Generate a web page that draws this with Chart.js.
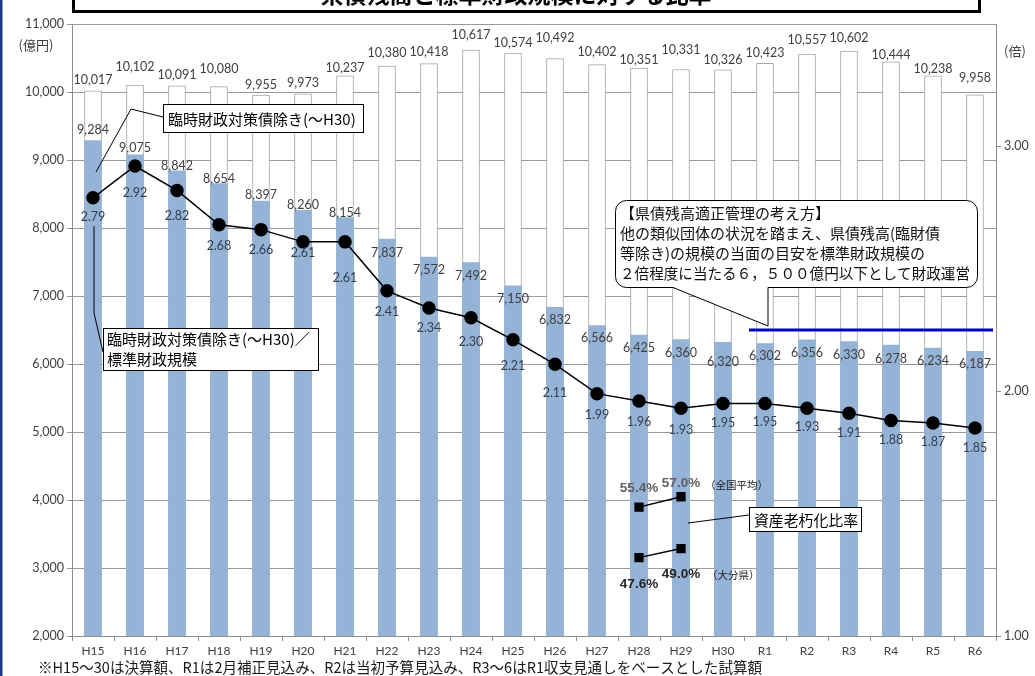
<!DOCTYPE html>
<html><head><meta charset="utf-8">
<script src="https://cdn.jsdelivr.net/npm/chart.js@4/dist/chart.umd.min.js"></script>
<style>html,body{margin:0;padding:0;background:#fff;overflow:hidden}#wrap{position:relative;width:1035px;height:676px}canvas{display:block}</style>
</head><body><div id="wrap"><canvas id="c" width="1035" height="676"></canvas></div>
<script>
const categories = ['H15','H16','H17','H18','H19','H20','H21','H22','H23','H24','H25','H26','H27','H28','H29','H30','R1','R2','R3','R4','R5','R6'];
const totalDebt = [10017,10102,10091,10080,9955,9973,10237,10380,10418,10617,10574,10492,10402,10351,10331,10326,10423,10557,10602,10444,10238,9958];
const debtExclTemp = [9284,9075,8842,8654,8397,8260,8154,7837,7572,7492,7150,6832,6566,6425,6360,6320,6302,6356,6330,6278,6234,6187];
const ratioToStd = [2.79,2.92,2.82,2.68,2.66,2.61,2.61,2.41,2.34,2.30,2.21,2.11,1.99,1.96,1.93,1.95,1.95,1.93,1.91,1.88,1.87,1.85];
const agingNational = [null,null,null,null,null,null,null,null,null,null,null,null,null,55.4,57.0,null,null,null,null,null,null,null];
const agingOita = [null,null,null,null,null,null,null,null,null,null,null,null,null,47.6,49.0,null,null,null,null,null,null,null];
const targetDebt = 6500;
const targetStartIndex = 15.5;

const titleText = '県債残高と標準財政規模に対する比率';
const noteText = '※H15～30は決算額、R1は2月補正見込み、R2は当初予算見込み、R3～6はR1収支見通しをベースとした試算額';
const calloutExcl = '臨時財政対策債除き(～H30)';
const calloutRatio = ['臨時財政対策債除き(～H30)／','標準財政規模'];
const calloutPolicy = ['【県債残高適正管理の考え方】','他の類似団体の状況を踏まえ、県債残高(臨財債','等除き)の規模の当面の目安を標準財政規模の','２倍程度に当たる６，５００億円以下として財政運営'];
const calloutAging = '資産老朽化比率';

// label placement nudges (pixels), as arranged in the original
const totalLabelLift = [11,18,11,18,10,11,8,13,12,15,10,21,13,8,20,10,10,14,13,7,7,17];
const exclLabelDrop = [-11,-7,-5,-5,-6,-5,-5,14,13,13,13,13,12,13,13,20,13,13,13,14,13,13];
const ratioLabelDrop = [19,27,26,21,20,11,36,21,20,24,26,29,21,21,22,20,19,19,20,19,19,20];

const NUM = 'Lato, "Noto Sans", sans-serif';
const JP = '"Noto Sans CJK JP", sans-serif';
const fmt = v => v.toLocaleString('en-US');

function seg(ctx, pts){ctx.beginPath();ctx.moveTo(pts[0][0],pts[0][1]);for(let i=1;i<pts.length;i++)ctx.lineTo(pts[i][0],pts[i][1]);ctx.stroke();}

const annot = {
  id:'annot',
  afterDatasetsDraw(chart){
    const {ctx, scales, chartArea} = chart;
    const x = scales.x, y = scales.y;
    ctx.save();
    // target line
    const ty = y.getPixelForValue(targetDebt);
    const step = x.getPixelForValue(1) - x.getPixelForValue(0);
    const tx0 = x.getPixelForValue(15) + (targetStartIndex-15)*step + 5;
    ctx.strokeStyle = '#0000c8'; ctx.lineWidth = 3;
    seg(ctx, [[tx0,ty],[chartArea.right-3,ty]]);

    // bar labels
    ctx.textAlign='center'; ctx.textBaseline='middle';
    ctx.font = '12.5px '+NUM; ctx.fillStyle='#404040';
    const mTot = chart.getDatasetMeta(4), mEx = chart.getDatasetMeta(3), mR = chart.getDatasetMeta(0);
    mTot.data.forEach((el,i)=>{ctx.fillText(fmt(totalDebt[i]), el.x, el.y-totalLabelLift[i]);});
    mEx.data.forEach((el,i)=>{ctx.fillText(fmt(debtExclTemp[i]), el.x, el.y+exclLabelDrop[i]);});
    ctx.fillStyle='#333f50';
    mR.data.forEach((el,i)=>{ctx.fillText(ratioToStd[i].toFixed(2), el.x, el.y+ratioLabelDrop[i]);});

    // aging labels
    ctx.font='bold 13.5px "Liberation Sans", sans-serif';
    const mN = chart.getDatasetMeta(1), mO = chart.getDatasetMeta(2);
    mN.data.forEach((el,i)=>{ if(agingNational[i]==null) return; ctx.fillStyle='#5f5f5f'; ctx.fillText(agingNational[i].toFixed(1)+'%', el.x, el.y-(i===13?19:13));});
    mO.data.forEach((el,i)=>{ if(agingOita[i]==null) return; ctx.fillStyle='#262626'; ctx.fillText(agingOita[i].toFixed(1)+'%', el.x, el.y+(i===13?27:26));});
    ctx.font='10.5px '+JP; ctx.fillStyle='#222'; ctx.textAlign='left';
    const n14 = mN.data[14], o14 = mO.data[14];
    ctx.fillText('（全国平均）', n14.x+24, n14.y-12);
    ctx.fillText('（大分県）', o14.x+26, o14.y+26);

    // callout 1
    ctx.strokeStyle='#000'; ctx.lineWidth=1;
    seg(ctx, [[96,172],[131,109],[163,117]]);
    ctx.fillStyle='#fff'; ctx.fillRect(163,104,200,28); ctx.strokeRect(163.5,104.5,200,28);
    ctx.fillStyle='#000'; ctx.font='15px '+JP; ctx.textAlign='left';
    ctx.fillText(calloutExcl, 168, 119, 190);

    // callout 2
    seg(ctx, [[94,226],[94,313],[103,352]]);
    ctx.fillStyle='#fff'; ctx.fillRect(103,328,215,42); ctx.strokeRect(103.5,328.5,215,42);
    ctx.fillStyle='#000';
    ctx.fillText(calloutRatio[0], 107, 339, 208);
    ctx.fillText(calloutRatio[1], 107, 359);

    // aging callout
    seg(ctx, [[688,523],[749,515]]);
    ctx.fillStyle='#fff'; ctx.fillRect(749,507,112,24); ctx.strokeRect(749.5,507.5,112,24);
    ctx.fillStyle='#000'; ctx.fillText(calloutAging, 754, 520, 104);

    // speech bubble
    const bx=615.5, by=200.5, bw=362, bh=87, r=11;
    ctx.beginPath();
    ctx.moveTo(bx+r,by); ctx.lineTo(bx+bw-r,by); ctx.arcTo(bx+bw,by,bx+bw,by+r,r);
    ctx.lineTo(bx+bw,by+bh-r); ctx.arcTo(bx+bw,by+bh,bx+bw-r,by+bh,r);
    ctx.lineTo(768,by+bh); ctx.lineTo(768,ty-4); ctx.lineTo(673,by+bh);
    ctx.lineTo(bx+r,by+bh); ctx.arcTo(bx,by+bh,bx,by+bh-r,r);
    ctx.lineTo(bx,by+r); ctx.arcTo(bx,by,bx+r,by,r); ctx.closePath();
    ctx.fillStyle='#fff'; ctx.fill(); ctx.strokeStyle='#000'; ctx.lineWidth=1; ctx.stroke();
    ctx.fillStyle='#111'; ctx.font='15px '+JP;
    calloutPolicy.forEach((t,i)=>ctx.fillText(t, 620, 213+i*20, 350));

    // axis units
    ctx.font='13px '+JP; ctx.fillStyle='#404040'; ctx.textAlign='center';
    ctx.fillText('(億円)', 36, 45);
    ctx.fillText('(倍)', 1015, 51);

    // footnote
    ctx.textAlign='left'; ctx.font='15px '+JP; ctx.fillStyle='#1a1a1a';
    ctx.fillText(noteText, 38, 667, 724);

    // title box
    ctx.lineWidth=3; ctx.strokeStyle='#000';
    ctx.strokeRect(73.5,-10,906,21.5);
    ctx.save(); ctx.beginPath(); ctx.rect(75,0,903,10); ctx.clip();
    ctx.font='bold 23px '+JP; ctx.fillStyle='#000'; ctx.textAlign='center'; ctx.textBaseline='alphabetic';
    ctx.fillText(titleText, 516, 3);
    ctx.restore();

    // left frame
    ctx.fillStyle='#1f3a86'; ctx.fillRect(0,0,2.5,676);
    ctx.restore();
  }
};

function build(){
new Chart(document.getElementById('c'), {
  data:{
    labels:categories,
    datasets:[
      {type:'line', data:ratioToStd, yAxisID:'y2', borderColor:'#000', borderWidth:1.5, pointRadius:6, pointBackgroundColor:'#000', pointBorderColor:'#000', order:0},
      {type:'line', data:agingNational, yAxisID:'y3', borderColor:'#000', borderWidth:1.5, pointStyle:'rect', pointRadius:5.5, pointBackgroundColor:'#000', pointBorderColor:'#000', order:0},
      {type:'line', data:agingOita, yAxisID:'y3', borderColor:'#000', borderWidth:1.5, pointStyle:'rect', pointRadius:5.5, pointBackgroundColor:'#000', pointBorderColor:'#000', order:0},
      {type:'bar', data:debtExclTemp, yAxisID:'y', backgroundColor:'#95b3d7', borderWidth:0, grouped:false, barThickness:17, order:1},
      {type:'bar', data:totalDebt, yAxisID:'y', backgroundColor:'#ffffff', borderColor:'#a6a6a6', borderWidth:1, grouped:false, barThickness:17, order:2}
    ]
  },
  options:{
    responsive:false, animation:false, devicePixelRatio:1,
    layout:{padding:{top:24,left:0,right:0,bottom:0}},
    plugins:{legend:{display:false}, tooltip:{enabled:false}, title:{display:false}},
    scales:{
      x:{type:'category', offset:true,
         grid:{drawOnChartArea:false, offset:true, tickLength:5, color:'#8c8c8c'},
         border:{color:'#8c8c8c'},
         ticks:{font:{size:12,family:NUM}, color:'#404040', padding:3, maxRotation:0, autoSkip:false},
         afterFit:s=>{s.height=40;}},
      y:{position:'left', min:2000, max:11000,
         ticks:{stepSize:1000, callback:v=>fmt(v), font:{size:12.5,family:NUM}, color:'#404040', padding:3},
         grid:{color:'#999', tickLength:5}, border:{color:'#8c8c8c'},
         afterFit:s=>{s.width=72;}},
      y2:{position:'right', min:1, max:3.5,
         ticks:{stepSize:1, callback:v=>Number(v).toFixed(2), font:{size:12.5,family:NUM}, color:'#404040', padding:3},
         grid:{drawOnChartArea:false, tickLength:5, color:'#8c8c8c'}, border:{color:'#8c8c8c'},
         afterBuildTicks:s=>{s.ticks=s.ticks.filter(t=>Number.isInteger(t.value));},
         afterFit:s=>{s.width=39;}},
      y3:{display:false, min:35.5, max:130}
    }
  },
  plugins:[annot]
});
}
Promise.all([document.fonts.load('13px Lato'),document.fonts.load('15px "Noto Sans CJK JP"'),document.fonts.load('bold 12px "Liberation Sans"')]).then(build,build);
</script></body></html>
